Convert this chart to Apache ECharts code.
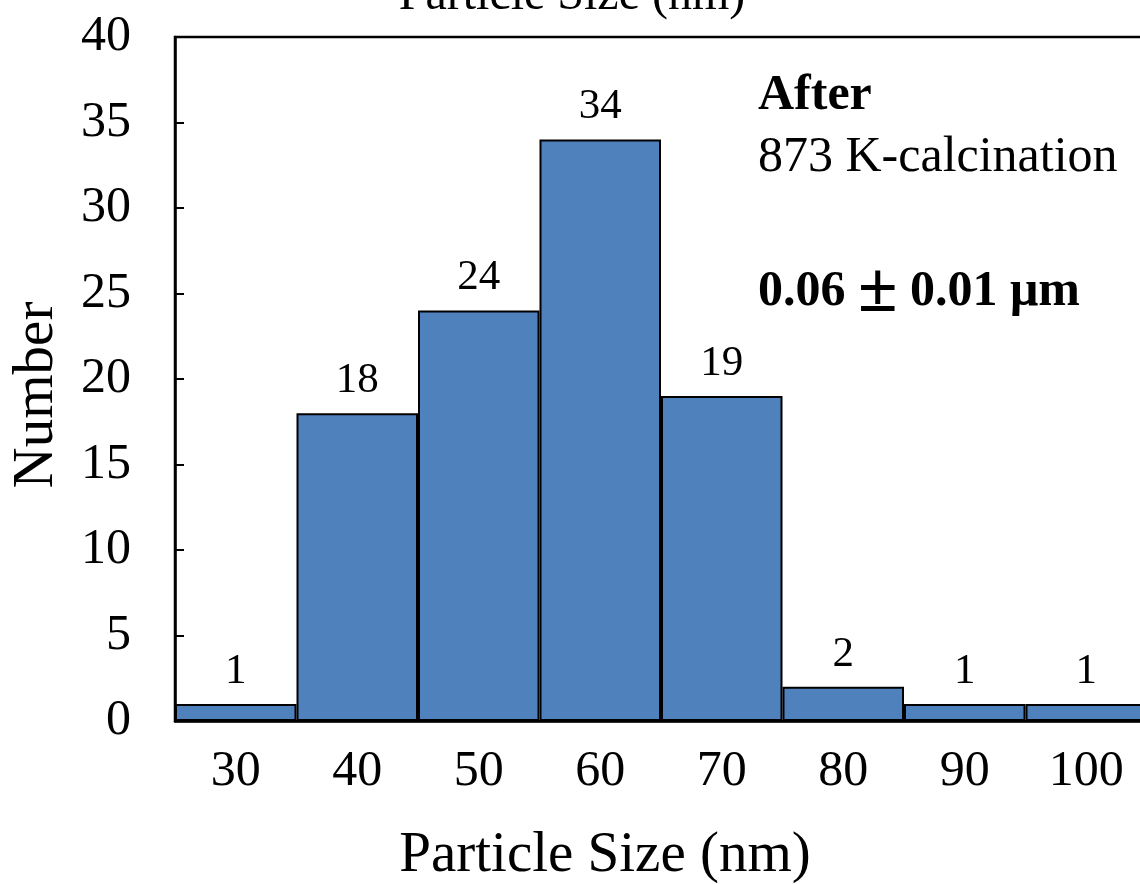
<!DOCTYPE html>
<html>
<head>
    <meta charset="utf-8">
    <title>Particle Size</title>
    <script src="https://cdn.jsdelivr.net/npm/echarts@6/dist/echarts.min.js"></script>
    <style>
        body{ margin:0; background:#fff; }
        #main{ width:1140px; height:884px; }
    </style>
</head>
<body>
<div id="main"></div>
<script>
    // bins (nm) and counts
    var sizes = ['30', '40', '50', '60', '70', '80', '90', '100'];
    var counts = [1, 18, 24, 34, 19, 2, 1, 1];
    var yTicks = { min: 0, max: 40, step: 5 };

    var serif = '"Liberation Serif", "DejaVu Serif", serif';
    var chart = echarts.init(document.getElementById('main'));
    chart.setOption({
        animation: false,
        grid: {
            left: 175, top: 37, width: 972, height: 684,
            outerBoundsMode: 'none',
            show: true, borderColor: '#000', borderWidth: 2.5,
            backgroundColor: 'transparent'
        },
        xAxis: {
            type: 'category',
            data: sizes,
            name: 'Particle Size (nm)',
            nameLocation: 'middle',
            nameGap: 107,
            // name sits left of the axis centre in the original
            nameTextStyle: { fontFamily: serif, fontSize: 57, color: '#000', padding: [0, 112, 0, 0] },
            axisLine: { lineStyle: { color: '#000', width: 2.5 } },
            axisTick: { show: false },
            axisLabel: { fontFamily: serif, fontSize: 50, color: '#000', margin: 26 }
        },
        yAxis: {
            type: 'value',
            min: yTicks.min, max: yTicks.max, interval: yTicks.step,
            name: 'Number',
            nameLocation: 'middle',
            nameGap: 109,
            nameTextStyle: { fontFamily: serif, fontSize: 57, color: '#000', padding: [0, 32, 0, 0] },
            axisLine: { show: true, lineStyle: { color: '#000', width: 2.5 } },
            axisTick: { show: true, inside: true, length: 9, lineStyle: { color: '#000', width: 2 } },
            axisLabel: { fontFamily: serif, fontSize: 50, color: '#000', margin: 44 },
            splitLine: { show: false }
        },
        series: [{
            type: 'bar',
            data: counts,
            barCategoryGap: 0,
            itemStyle: { color: '#4f81bd', borderColor: '#000', borderWidth: 2 },
            label: {
                show: true, position: 'top', distance: 11,
                fontFamily: serif, fontSize: 43, color: '#000'
            }
        }],
        graphic: [
            { type: 'text', x: 572, y: 20,
              style: { text: 'Particle Size (nm)', font: '48px ' + serif, fill: '#000',
                       align: 'center', verticalAlign: 'bottom' } },
            { type: 'text', left: 758, top: 71,
              style: { text: 'After', font: 'bold 50px ' + serif, fill: '#000' } },
            { type: 'text', left: 758, top: 133,
              style: { text: '873 K-calcination', font: '50px ' + serif, fill: '#000' } },
            { type: 'text', left: 758, top: 256,
              style: {
                  text: '{a|0.06 }{b|\u00b1}{a| 0.01 \u03bcm}',
                  rich: {
                      a: { fontFamily: serif, fontWeight: 'bold', fontSize: 50, fill: '#000' },
                      b: { fontFamily: serif, fontWeight: 'bold', fontSize: 72, fill: '#000' }
                  }
              } }
        ]
    });
</script>
</body>
</html>
